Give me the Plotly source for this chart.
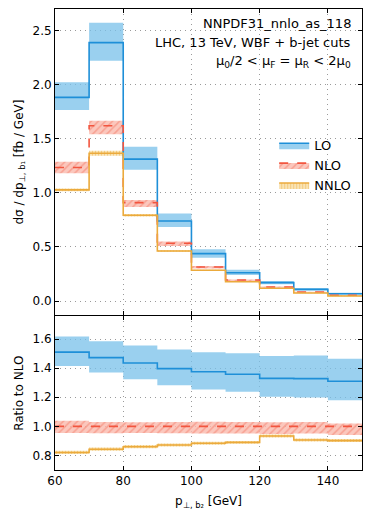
import plotly.graph_objects as go
from plotly.subplots import make_subplots

# bin edges (GeV)
edges = [60, 70, 80, 90, 100, 110, 120, 130, 140, 150]

# differential cross section [fb / GeV]
lo = [1.883, 2.389, 1.312, 0.740, 0.438, 0.262, 0.170, 0.108, 0.068]
lo_up = [2.022, 2.574, 1.426, 0.810, 0.478, 0.290, 0.185, 0.120, 0.076]
lo_dn = [1.766, 2.222, 1.213, 0.685, 0.400, 0.240, 0.155, 0.097, 0.060]
nlo = [1.235, 1.620, 0.910, 0.534, 0.315, 0.194, 0.130, 0.083, 0.053]
nlo_up = [1.287, 1.667, 0.935, 0.550, 0.325, 0.200, 0.134, 0.085, 0.055]
nlo_dn = [1.182, 1.543, 0.870, 0.510, 0.300, 0.184, 0.123, 0.078, 0.050]
nnlo = [1.028, 1.367, 0.793, 0.463, 0.284, 0.179, 0.118, 0.074, 0.046]
nnlo_up = [1.040, 1.389, 0.805, 0.470, 0.289, 0.182, 0.121, 0.076, 0.048]
nnlo_dn = [1.015, 1.343, 0.781, 0.456, 0.279, 0.176, 0.115, 0.072, 0.044]

# ratio to NLO
r_lo = [1.510, 1.472, 1.435, 1.397, 1.375, 1.358, 1.330, 1.328, 1.310]
r_lo_up = [1.617, 1.585, 1.556, 1.528, 1.510, 1.503, 1.483, 1.487, 1.465]
r_lo_dn = [1.414, 1.370, 1.323, 1.282, 1.253, 1.237, 1.203, 1.198, 1.180]
r_nlo = [1.0, 1.0, 1.0, 1.0, 1.0, 1.0, 1.0, 1.0, 1.0]
r_nlo_up = [1.038, 1.030, 1.028, 1.030, 1.032, 1.030, 1.028, 1.030, 1.020]
r_nlo_dn = [0.955, 0.952, 0.955, 0.952, 0.950, 0.950, 0.948, 0.950, 0.940]
r_nnlo = [0.820, 0.843, 0.860, 0.872, 0.884, 0.890, 0.934, 0.906, 0.902]
r_nnlo_up = [0.832, 0.854, 0.871, 0.882, 0.894, 0.900, 0.944, 0.916, 0.913]
r_nnlo_dn = [0.810, 0.832, 0.850, 0.862, 0.874, 0.880, 0.924, 0.896, 0.892]

FONT = "DejaVu Sans"
styles = {
    "LO": dict(line="#1e8fd8", fill="rgba(120,192,234,0.75)", dash="solid", pattern=None),
    "NLO": dict(line="#f2553f", fill="rgba(250,170,155,0.75)", dash="dash",
                pattern=dict(shape="/", fgcolor="#f47a66", bgcolor="rgba(250,185,172,0.8)", size=5, solidity=0.3)),
    "NNLO": dict(line="#ebaa3c", fill="rgba(245,210,140,0.75)", dash="solid",
                 pattern=dict(shape="|", fgcolor="#eeb24c", bgcolor="rgba(247,220,160,0.8)", size=3, solidity=0.35)),
}


def step(v):
    return v + [v[-1]]


fig = make_subplots(rows=2, cols=1, shared_xaxes=True, vertical_spacing=0.003,
                    row_heights=[0.666, 0.334])

panels = [
    (1, {"LO": (lo, lo_up, lo_dn), "NLO": (nlo, nlo_up, nlo_dn), "NNLO": (nnlo, nnlo_up, nnlo_dn)}),
    (2, {"LO": (r_lo, r_lo_up, r_lo_dn), "NLO": (r_nlo, r_nlo_up, r_nlo_dn),
         "NNLO": (r_nnlo, r_nnlo_up, r_nnlo_dn)}),
]

for row, series in panels:
    # bands
    for name, (c, up, dn) in series.items():
        s = styles[name]
        fig.add_trace(go.Scatter(x=edges, y=step(dn), mode="lines", line=dict(width=0, shape="hv"),
                                 showlegend=False, hoverinfo="skip"), row=row, col=1)
        kw = dict(fillpattern=s["pattern"]) if s["pattern"] else {}
        fig.add_trace(go.Scatter(x=edges, y=step(up), mode="lines", line=dict(width=0, shape="hv"),
                                 fill="tonexty", fillcolor=s["fill"], showlegend=False,
                                 hoverinfo="skip", **kw), row=row, col=1)
    # central lines
    for name, (c, up, dn) in series.items():
        s = styles[name]
        fig.add_trace(go.Scatter(x=edges, y=step(c), mode="lines",
                                 line=dict(color=s["line"], width=1.6, dash=s["dash"], shape="hv"),
                                 showlegend=False), row=row, col=1)

# legend entries
for name, s in styles.items():
    kw = dict(fillpattern=s["pattern"]) if s["pattern"] else {}
    fig.add_trace(go.Scatter(x=[None], y=[None], mode="lines", name=name, fill="toself",
                             fillcolor=s["fill"], line=dict(color=s["line"], width=1.6, dash=s["dash"]),
                             **kw), row=1, col=1)

axis_common = dict(showline=True, linecolor="black", linewidth=1, mirror="allticks",
                   ticks="inside", ticklen=4, tickcolor="black", automargin=False,
                   showgrid=True, gridcolor="#9a9a9a", griddash="1px,4px", gridwidth=1,
                   zeroline=False, tickfont=dict(family=FONT, size=12, color="black"))

fig.update_xaxes(axis_common)
fig.update_xaxes(range=[60, 150], tick0=60, dtick=20)
fig.update_xaxes(showticklabels=False, row=1, col=1)
fig.update_xaxes(title=dict(text="p<sub>⊥, b₂</sub> [GeV]", font=dict(family=FONT, size=12, color="black"),
                            standoff=9), row=2, col=1)
fig.update_yaxes(axis_common)
fig.update_yaxes(range=[-0.13, 2.7], dtick=0.5, tickformat=".1f",
                 title=dict(text="dσ / dp<sub>⊥, b₁</sub> [fb / GeV]", font=dict(family=FONT, size=12, color="black"),
                            standoff=6), row=1, col=1)
fig.update_yaxes(range=[0.70, 1.755], dtick=0.2, tick0=0.8, tickformat=".1f",
                 title=dict(text="Ratio to NLO", font=dict(family=FONT, size=12, color="black"),
                            standoff=6), row=2, col=1)

notes = [
    ("NNPDF31_nnlo_as_118", 0.9696),
    ("LHC, 13 TeV, WBF + b-jet cuts", 0.928),
    ("μ<sub>0</sub>/2 &lt; μ<sub>F</sub> = μ<sub>R</sub> &lt; 2μ<sub>0</sub>", 0.887),
]
for txt, yy in notes:
    fig.add_annotation(text=txt, x=0.971, y=yy, xref="paper", yref="paper", xanchor="right",
                       yanchor="middle", showarrow=False, font=dict(family=FONT, size=13, color="black"))

# page body adds an 8px offset, so the figure is 8px smaller than the window
fig.update_layout(
    width=364, height=509,
    margin=dict(l=47, r=10, t=1, b=47),
    plot_bgcolor="white", paper_bgcolor="white",
    font=dict(family=FONT, size=12, color="black"),
    legend=dict(x=0.714, y=0.737, xanchor="left", yanchor="top", bgcolor="rgba(0,0,0,0)",
                font=dict(family=FONT, size=13), itemwidth=30, tracegroupgap=0,
                traceorder="normal"),
)

fig.write_html("out.html")
